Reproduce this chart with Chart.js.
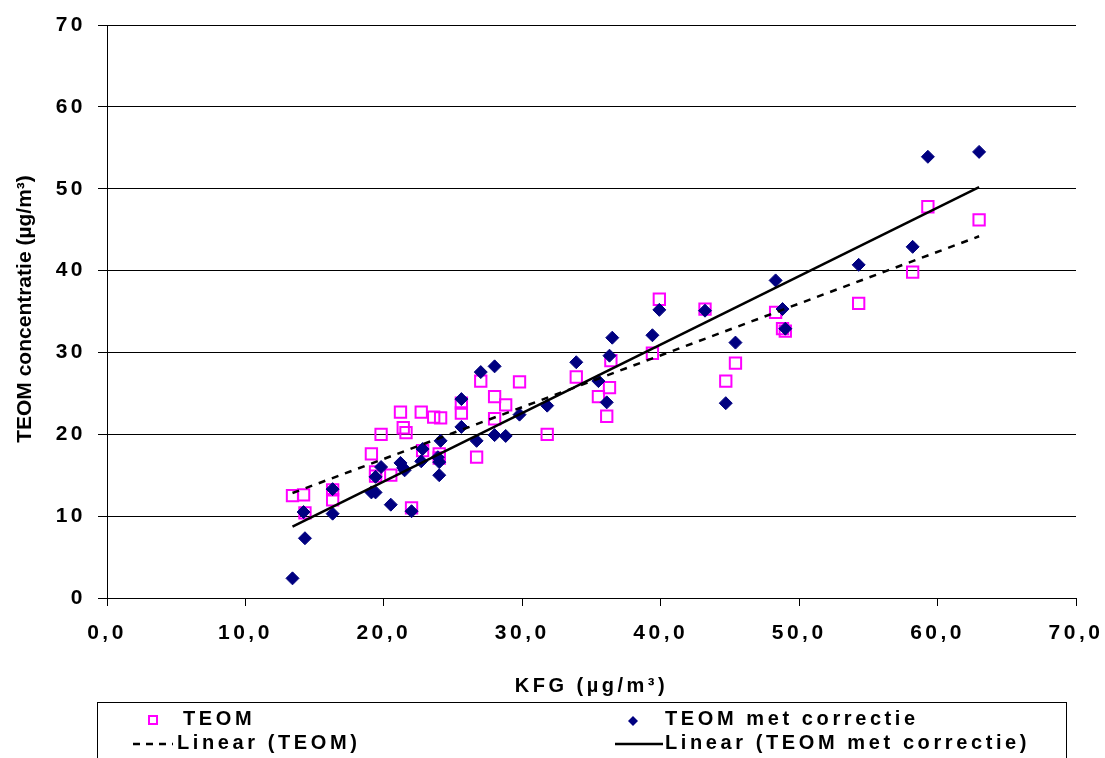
<!DOCTYPE html>
<html>
<head>
<meta charset="utf-8">
<script src="https://cdn.jsdelivr.net/npm/chart.js@4/dist/chart.umd.min.js"></script>
<style>
  body { margin: 0; background: #fff; }
  #wrap { width: 1105px; height: 758px; }
</style>
</head>
<body>
<div id="wrap"><canvas id="teomChart"></canvas></div>
<script>
// KFG (x) en TEOM (y), gelezen uit de grafiek
var teomX = [13.4,14.2,14.3,16.3,16.3,19.1,19.4,19.4,20.5,19.8,21.2,22.7,21.4,21.6,23.6,24.1,22.0,22.8,24.0,24.0,25.6,25.6,27.0,28.0,28.8,28.0,29.8,26.7,31.8,33.9,35.5,36.3,36.1,36.4,39.4,39.9,43.2,44.7,45.4,48.3,48.8,49.0,54.3,58.2,59.3,63.0];
var teomY = [12.5,12.6,10.4,13.2,12.0,17.6,15.4,14.9,15.0,20.0,22.7,22.7,20.8,20.2,22.1,22.0,11.0,18.0,17.6,17.1,23.8,22.6,26.5,24.6,23.6,21.9,26.4,17.2,20.0,27.0,24.6,25.7,22.2,29.0,29.9,36.5,35.3,26.5,28.7,34.9,32.9,32.6,36.0,39.8,47.8,46.2];

var corrX = [13.4,14.2,14.3,16.3,16.3,19.1,19.4,19.4,19.8,20.5,21.2,21.4,21.5,22.0,22.7,22.8,23.9,24.0,24.0,24.1,25.6,25.6,26.7,27.0,28.0,28.0,28.8,29.8,31.8,33.9,35.5,36.3,36.5,36.1,39.4,39.9,43.2,45.4,44.7,48.3,48.8,49.0,54.3,58.2,59.3,63.0];
var corrY = [2.4,10.5,7.3,13.3,10.3,12.9,12.9,14.8,16.0,11.4,16.5,15.9,15.6,10.6,16.7,18.2,17.2,16.6,15.0,19.2,24.3,20.9,19.2,27.6,28.3,19.9,19.8,22.4,23.5,28.8,26.5,29.6,31.8,23.9,32.1,35.2,35.1,31.2,23.8,38.8,35.3,32.9,40.7,42.9,53.9,54.5];

var seriesNames = ['TEOM', 'TEOM met correctie', 'Linear (TEOM)', 'Linear (TEOM met correctie)'];
var xTitle = 'KFG (µg/m³)';
var yTitle = 'TEOM concentratie (µg/m³)';

function points(xs, ys) {
  return xs.map(function (x, i) { return {x: x, y: ys[i]}; });
}

// kleinste-kwadraten trendlijn, zoals Excel die tekent
function trend(xs, ys) {
  var n = xs.length, sx = 0, sy = 0, sxx = 0, sxy = 0;
  for (var i = 0; i < n; i++) {
    sx += xs[i]; sy += ys[i]; sxx += xs[i] * xs[i]; sxy += xs[i] * ys[i];
  }
  var b = (n * sxy - sx * sy) / (n * sxx - sx * sx);
  var a = (sy - b * sx) / n;
  var lo = Math.min.apply(null, xs), hi = Math.max.apply(null, xs);
  return [{x: lo, y: a + b * lo}, {x: hi, y: a + b * hi}];
}

var FONT = '"Liberation Sans", Arial, sans-serif';

var legendBox = {
  id: 'legendBox',
  beforeDraw: function (chart) {
    chart.ctx.letterSpacing = '3.5px';
  },
  afterDraw: function (chart) {
    var ctx = chart.ctx;
    ctx.save();
    ctx.letterSpacing = '0px';
    // y-as titel
    ctx.fillStyle = '#000';
    ctx.font = 'bold 21px ' + FONT;
    ctx.textAlign = 'center';
    ctx.textBaseline = 'middle';
    ctx.translate(25, 309);
    ctx.rotate(-Math.PI / 2);
    ctx.fillText(yTitle, 0, 0);
    ctx.restore();

    ctx.save();
    ctx.strokeStyle = '#000';
    ctx.lineWidth = 1;
    ctx.strokeRect(97.5, 702.5, 969, 70);

    ctx.letterSpacing = '3.6px';
    ctx.font = 'bold 20px ' + FONT;
    ctx.fillStyle = '#000';
    ctx.textAlign = 'left';
    ctx.textBaseline = 'middle';
    ctx.fillText(seriesNames[0], 183, 719);
    ctx.fillText(seriesNames[1], 665, 719);
    ctx.fillText(seriesNames[2], 177, 743);
    ctx.fillText(seriesNames[3], 665, 743);

    // symbolen
    ctx.strokeStyle = '#FF00FF';
    ctx.lineWidth = 2;
    ctx.strokeRect(149, 716, 8, 8);

    ctx.fillStyle = '#000080';
    ctx.beginPath();
    ctx.moveTo(633, 716); ctx.lineTo(638, 721); ctx.lineTo(633, 726); ctx.lineTo(628, 721);
    ctx.closePath();
    ctx.fill();

    ctx.strokeStyle = '#000';
    ctx.lineWidth = 2.5;
    ctx.setLineDash([7, 6]);
    ctx.beginPath(); ctx.moveTo(133, 744); ctx.lineTo(173, 744); ctx.stroke();
    ctx.setLineDash([]);
    ctx.beginPath(); ctx.moveTo(615, 744); ctx.lineTo(663, 744); ctx.stroke();
    ctx.restore();
  }
};

var teomChart = new Chart('teomChart', {
  type: 'scatter',
  data: {
    datasets: [
      {
        label: seriesNames[3],
        data: trend(corrX, corrY),
        showLine: true,
        borderColor: '#000',
        borderWidth: 2.5,
        pointRadius: 0
      },
      {
        label: seriesNames[2],
        data: trend(teomX, teomY),
        showLine: true,
        borderColor: '#000',
        borderWidth: 2.5,
        borderDash: [7, 7],
        pointRadius: 0
      },
      {
        label: seriesNames[1],
        data: points(corrX, corrY),
        pointStyle: 'rectRot',
        pointRadius: 6.5,
        backgroundColor: '#000080',
        borderColor: '#000080',
        borderWidth: 1
      },
      {
        label: seriesNames[0],
        data: points(teomX, teomY),
        pointStyle: 'rect',
        pointRadius: 8,
        backgroundColor: 'rgba(0,0,0,0)',
        borderColor: '#FF00FF',
        borderWidth: 2
      }
    ]
  },
  options: {
    responsive: true,
    maintainAspectRatio: false,
    animation: false,
    events: [],
    layout: { padding: { left: 0, top: 25, right: 29, bottom: 60 } },
    plugins: {
      legend: { display: false },
      tooltip: { enabled: false }
    },
    scales: {
      x: {
        type: 'linear',
        min: 0,
        max: 70,
        afterFit: function (s) { s.height = 100; s.paddingLeft = 0; s.paddingRight = 0; },
        ticks: {
          stepSize: 10,
          color: '#000',
          padding: 15,
          font: { family: FONT, size: 21, weight: 'bold' },
          callback: function (v) { return v.toFixed(1).replace('.', ','); },
          maxRotation: 0
        },
        grid: { drawOnChartArea: false, drawTicks: true, tickLength: 8, color: '#000' },
        border: { display: true, color: '#000', width: 1 },
        title: {
          display: true,
          text: xTitle,
          color: '#000',
          font: { family: FONT, size: 20, weight: 'bold' },
          padding: { top: 13, bottom: 0 }
        }
      },
      y: {
        min: 0,
        max: 70,
        afterFit: function (s) { s.width = 107; },
        ticks: {
          stepSize: 10,
          color: '#000',
          padding: 12,
          font: { family: FONT, size: 21, weight: 'bold' }
        },
        grid: { color: '#000', lineWidth: 1, tickLength: 9 },
        border: { display: true, color: '#000', width: 1 }
      }
    }
  },
  plugins: [legendBox]
});
</script>
</body>
</html>
